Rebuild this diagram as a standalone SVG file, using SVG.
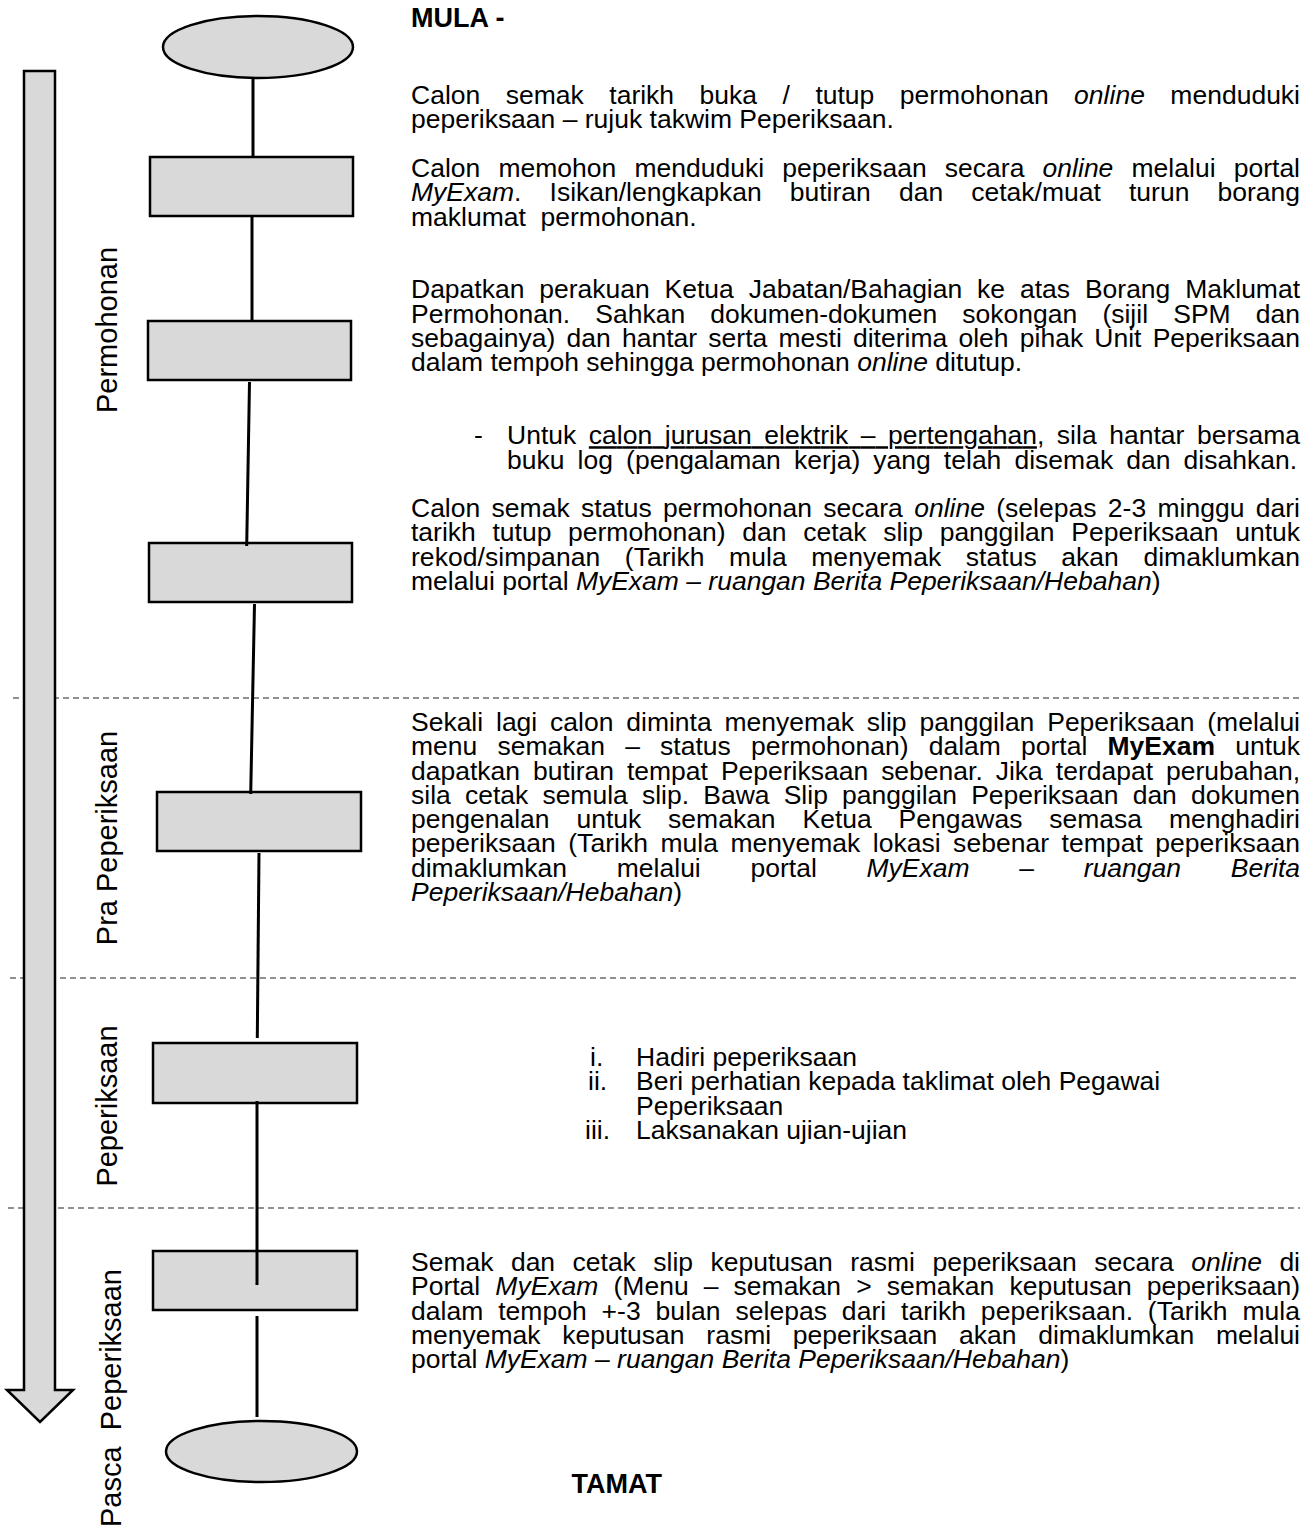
<svg xmlns="http://www.w3.org/2000/svg" width="1305" height="1529" viewBox="0 0 1305 1529">
<style>
.shape{fill:#d9d9d9;stroke:#000;stroke-width:2.5}
.conn line{stroke:#000;stroke-width:3;stroke-linecap:butt}
.dash{stroke:#222;stroke-width:1.2;stroke-dasharray:6 4;fill:none}
.t{font-family:"Liberation Sans",Arial,sans-serif;font-size:25px;fill:#000}
.h{font-family:"Liberation Sans",Arial,sans-serif;font-size:27px;font-weight:bold;fill:#000}
.lbl{font-family:"Liberation Sans",Arial,sans-serif;font-size:29px;fill:#000;text-anchor:middle}
.b{font-weight:bold}
.i{font-style:italic}
.u{text-decoration:underline}
</style>

<g id="phase-dividers">
<line class="dash" x1="13" y1="698" x2="1300" y2="698"/>
<line class="dash" x1="10" y1="978" x2="1300" y2="978"/>
<line class="dash" x1="8" y1="1208" x2="1300" y2="1208"/>
</g>

<g id="timeline-arrow">
<polygon class="shape" stroke-width="2.2" points="24,71 55,71 55,1390 73,1390 40,1422 7,1390 24,1390"/>
</g>

<g id="phase-labels">
<text class="lbl" transform="translate(117,330) rotate(-90)">Permohonan</text>
<text class="lbl" transform="translate(117,838) rotate(-90)">Pra Peperiksaan</text>
<text class="lbl" transform="translate(117,1106) rotate(-90)">Peperiksaan</text>
<text class="lbl" transform="translate(121,1398) rotate(-90)">Pasca&#160; Peperiksaan</text>
</g>

<g id="start"><ellipse class="shape" cx="258" cy="47" rx="95" ry="31"/></g>
<g id="step1"><rect class="shape" x="150" y="157" width="203" height="59"/></g>
<g id="step2"><rect class="shape" x="148" y="321" width="203" height="59"/></g>
<g id="step3"><rect class="shape" x="149" y="543" width="203" height="59"/></g>
<g id="step4"><rect class="shape" x="157" y="792" width="204" height="59"/></g>
<g id="step5"><rect class="shape" x="153" y="1043" width="204" height="60"/></g>
<g id="step6"><rect class="shape" x="153" y="1251" width="204" height="59"/></g>
<g id="end"><ellipse class="shape" cx="261.5" cy="1451.5" rx="95.5" ry="30.5"/></g>

<g id="connectors" class="conn">
<line x1="253" y1="78" x2="253" y2="156"/>
<line x1="252" y1="216" x2="252" y2="321"/>
<line x1="249.5" y1="382" x2="246.7" y2="546"/>
<line x1="254.5" y1="604" x2="250.7" y2="794"/>
<line x1="259" y1="853" x2="257.3" y2="1038"/>
<line x1="257" y1="1101" x2="257" y2="1285"/>
<line x1="257" y1="1316" x2="257" y2="1417"/>
</g>

<text class="h" x="411" y="27">MULA -</text>

<g id="text-permohonan" class="t" transform="translate(411,0) scale(1.06,1)">
<text x="0" y="104" textLength="838.7" lengthAdjust="spacing" word-spacing="17.1">Calon semak tarikh buka / tutup permohonan <tspan class="i">online</tspan> menduduki</text>
<text x="0" y="128.3">peperiksaan – rujuk takwim Peperiksaan.</text>

<text x="0" y="177" textLength="838.7" lengthAdjust="spacing" word-spacing="10.2">Calon memohon menduduki peperiksaan secara <tspan class="i">online</tspan> melalui portal</text>
<text x="0" y="201.3" textLength="838.7" lengthAdjust="spacing" word-spacing="19.6"><tspan class="i">MyExam</tspan>. Isikan/lengkapkan butiran dan cetak/muat turun borang</text>
<text x="0" y="225.6">maklumat&#160; permohonan.</text>

<text x="0" y="298.5" textLength="838.7" lengthAdjust="spacing" word-spacing="7.1">Dapatkan perakuan Ketua Jabatan/Bahagian ke atas Borang Maklumat</text>
<text x="0" y="322.8" textLength="838.7" lengthAdjust="spacing" word-spacing="16.8">Permohonan. Sahkan dokumen-dokumen sokongan (sijil SPM dan</text>
<text x="0" y="347.1" textLength="838.7" lengthAdjust="spacing" word-spacing="3.6">sebagainya) dan hantar serta mesti diterima oleh pihak Unit Peperiksaan</text>
<text x="0" y="371.4">dalam tempoh sehingga permohonan <tspan class="i">online</tspan> ditutup.</text>

<text x="59.4" y="444.3">-</text>
<text x="90.6" y="444.3" textLength="748.1" lengthAdjust="spacing" word-spacing="4.9">Untuk <tspan class="u">calon jurusan elektrik – pertengahan</tspan>, sila hantar bersama</text>
<text x="90.6" y="468.6" textLength="745.3" lengthAdjust="spacing" word-spacing="5.4">buku log (pengalaman kerja) yang telah disemak dan disahkan.</text>

<text x="0" y="517.2" textLength="838.7" lengthAdjust="spacing" word-spacing="3.8">Calon semak status permohonan secara <tspan class="i">online</tspan> (selepas 2-3 minggu dari</text>
<text x="0" y="541.5" textLength="838.7" lengthAdjust="spacing" word-spacing="8.8">tarikh tutup permohonan) dan cetak slip panggilan Peperiksaan untuk</text>
<text x="0" y="565.8" textLength="838.7" lengthAdjust="spacing" word-spacing="16.1">rekod/simpanan (Tarikh mula menyemak status akan dimaklumkan</text>
<text x="0" y="590.1">melalui portal <tspan class="i">MyExam – ruangan Berita Peperiksaan/Hebahan</tspan>)</text>
</g>

<g id="text-pra" class="t" transform="translate(411,0) scale(1.06,1)">
<text x="0" y="731" textLength="838.7" lengthAdjust="spacing" word-spacing="5.2">Sekali lagi calon diminta menyemak slip panggilan Peperiksaan (melalui</text>
<text x="0" y="755.3" textLength="838.7" lengthAdjust="spacing" word-spacing="12.1">menu semakan – status permohonan) dalam portal <tspan class="b">MyExam</tspan> untuk</text>
<text x="0" y="779.6" textLength="838.7" lengthAdjust="spacing" word-spacing="5.3">dapatkan butiran tempat Peperiksaan sebenar. Jika terdapat perubahan,</text>
<text x="0" y="803.9" textLength="838.7" lengthAdjust="spacing" word-spacing="6.4">sila cetak semula slip. Bawa Slip panggilan Peperiksaan dan dokumen</text>
<text x="0" y="828.2" textLength="838.7" lengthAdjust="spacing" word-spacing="18.4">pengenalan untuk semakan Ketua Pengawas semasa menghadiri</text>
<text x="0" y="852.5" textLength="838.7" lengthAdjust="spacing" word-spacing="4.7">peperiksaan (Tarikh mula menyemak lokasi sebenar tempat peperiksaan</text>
<text x="0" y="876.8" textLength="838.7" lengthAdjust="spacing" word-spacing="40">dimaklumkan melalui portal <tspan class="i">MyExam</tspan> – <tspan class="i">ruangan Berita</tspan></text>
<text x="0" y="901.1"><tspan class="i">Peperiksaan/Hebahan</tspan>)</text>
</g>

<g id="text-peperiksaan" class="t" transform="translate(411,0) scale(1.06,1)">
<text x="168.9" y="1066">i.</text>
<text x="212.3" y="1066">Hadiri peperiksaan</text>
<text x="167" y="1090.3">ii.</text>
<text x="212.3" y="1090.3">Beri perhatian kepada taklimat oleh Pegawai</text>
<text x="212.3" y="1114.6">Peperiksaan</text>
<text x="164.2" y="1138.9">iii.</text>
<text x="212.3" y="1138.9">Laksanakan ujian-ujian</text>
</g>

<g id="text-pasca" class="t" transform="translate(411,0) scale(1.06,1)">
<text x="0" y="1271" textLength="838.7" lengthAdjust="spacing" word-spacing="9.5">Semak dan cetak slip keputusan rasmi peperiksaan secara <tspan class="i">online</tspan> di</text>
<text x="0" y="1295.3" textLength="838.7" lengthAdjust="spacing" word-spacing="7.3">Portal <tspan class="i">MyExam</tspan> (Menu – semakan &gt; semakan keputusan peperiksaan)</text>
<text x="0" y="1319.6" textLength="838.7" lengthAdjust="spacing" word-spacing="7">dalam tempoh +-3 bulan selepas dari tarikh peperiksaan. (Tarikh mula</text>
<text x="0" y="1343.9" textLength="838.7" lengthAdjust="spacing" word-spacing="13.6">menyemak keputusan rasmi peperiksaan akan dimaklumkan melalui</text>
<text x="0" y="1368.2">portal <tspan class="i">MyExam – ruangan Berita Peperiksaan/Hebahan</tspan>)</text>
</g>

<text class="h" x="571.5" y="1493">TAMAT</text>
</svg>
